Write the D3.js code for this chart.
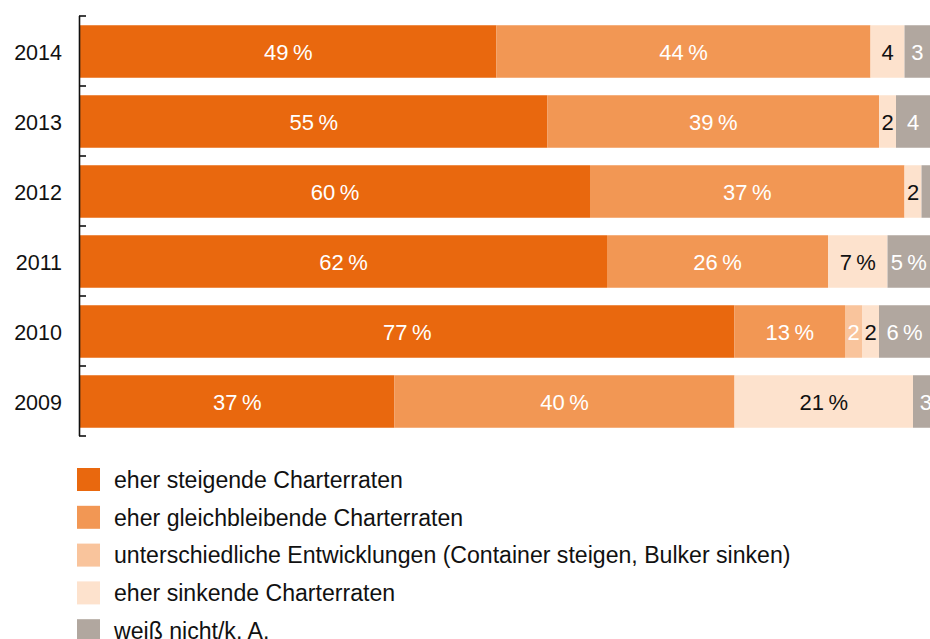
<!DOCTYPE html>
<html>
<head>
<meta charset="utf-8">
<script src="https://cdn.jsdelivr.net/npm/d3@7"></script>
<style>
  html, body { margin: 0; padding: 0; background: #fff; }
  svg { display: block; font-family: "Liberation Sans", Arial, Helvetica, sans-serif; }
</style>
</head>
<body>
<svg id="chart" width="930" height="639"></svg>
<script>
// Survey years, top to bottom
const years = ["2014", "2013", "2012", "2011", "2010", "2009"];

// Answer categories (stack order, left to right)
const categories = [
  "eher steigende Charterraten",
  "eher gleichbleibende Charterraten",
  "unterschiedliche Entwicklungen (Container steigen, Bulker sinken)",
  "eher sinkende Charterraten",
  "weiß nicht/k. A."
];

// Shares in percent per category, one value per year (same order as years)
const steigend      = [49, 55, 60, 62, 77, 37];
const gleichbleibend = [44, 39, 37, 26, 13, 40];
const unterschiedlich = [0, 0, 0, 0, 2, 0];
const sinkend       = [4, 2, 2, 7, 2, 21];
const weissNicht    = [3, 4, 1, 5, 6, 3];

const seriesValues = [steigend, gleichbleibend, unterschiedlich, sinkend, weissNicht];

const colors = ["#E9680E", "#F29754", "#F9C49C", "#FDE2CD", "#B1A79F"];
const labelColors = ["#fff", "#fff", "#fff", "#111", "#fff"];

const svg = d3.select("#chart");

const x = d3.scaleLinear().domain([0, 100]).range([80, 930]);
const y = d3.scaleBand().domain(years).range([15.5, 435.5]).paddingInner(0.25).paddingOuter(0.125);

// Build stack rows
const rows = years.map((yr, i) => {
  const row = { year: yr };
  categories.forEach((c, k) => { row[c] = seriesValues[k][i]; });
  return row;
});
const stacked = d3.stack().keys(categories)(rows);

// Bars (nudged slightly below the band centre)
const barShift = 1;
const groups = svg.append("g").selectAll("g")
  .data(stacked)
  .join("g")
  .attr("fill", (d, k) => colors[k]);

groups.selectAll("rect")
  .data(d => d.map(s => ({ s, key: d.key })))
  .join("rect")
  .attr("x", d => x(d.s[0]))
  .attr("y", d => y(d.s.data.year) + barShift)
  .attr("width", d => x(d.s[1]) - x(d.s[0]))
  .attr("height", y.bandwidth());

// Value labels inside segments
const fmt = v => v >= 5 ? v + "\u2009%" : (v >= 2 ? String(v) : "");
stacked.forEach((layer, k) => {
  svg.append("g")
    .selectAll("text")
    .data(layer.filter(s => fmt(s[1] - s[0]) !== ""))
    .join("text")
    .attr("x", s => (x(s[0]) + x(s[1])) / 2)
    .attr("y", s => y(s.data.year) + barShift + y.bandwidth() / 2)
    .attr("dy", "0.38em")
    .attr("text-anchor", "middle")
    .attr("font-size", 22)
    .attr("fill", labelColors[k])
    .text(s => fmt(s[1] - s[0]));
});

// Category axis: line with ticks at the band edges
const yEdge = d3.scaleLinear().domain([0, years.length]).range(y.range());
const edgeAxis = svg.append("g")
  .attr("transform", "translate(79,0)")
  .call(d3.axisRight(yEdge).ticks(years.length).tickSize(7).tickSizeOuter(0).tickFormat(""));
edgeAxis.select(".domain").attr("stroke", "#111").attr("stroke-width", 1.6);
edgeAxis.selectAll(".tick line").attr("stroke", "#111").attr("stroke-width", 1.6);

// Year labels
const yearAxis = svg.append("g")
  .attr("transform", `translate(79,${barShift})`)
  .call(d3.axisLeft(y).tickSize(0).tickPadding(17));
yearAxis.select(".domain").remove();
yearAxis.selectAll("text")
  .attr("font-size", 21.5)
  .attr("dy", "0.38em")
  .attr("fill", "#111")
  .attr("font-family", "Liberation Sans, Arial, sans-serif");

// Legend
const legend = svg.append("g").attr("transform", "translate(77,468)");
const item = legend.selectAll("g")
  .data(categories)
  .join("g")
  .attr("transform", (d, i) => `translate(0,${i * 37.8})`);
item.append("rect")
  .attr("width", 23)
  .attr("height", 23)
  .attr("fill", (d, i) => colors[i]);
item.append("text")
  .attr("x", 37)
  .attr("y", 11.5)
  .attr("dy", "0.36em")
  .attr("font-size", 23.1)
  .attr("fill", "#111")
  .text(d => d);
</script>
</body>
</html>
